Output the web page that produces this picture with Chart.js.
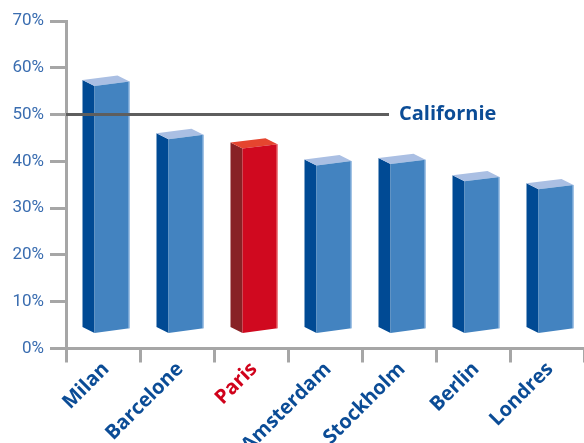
<!DOCTYPE html>
<html>
<head>
<meta charset="utf-8">
<script src="https://cdn.jsdelivr.net/npm/chart.js@4/dist/chart.umd.min.js"></script>
<style>
  html, body { margin: 0; padding: 0; background: #ffffff; }
  #wrap { width: 584px; height: 443px; }
</style>
</head>
<body>
<div id="wrap"><canvas id="c" width="584" height="443"></canvas></div>
<script>
// ---- data ----
const cities = ['Milan', 'Barcelone', 'Paris', 'Amsterdam', 'Stockholm', 'Berlin', 'Londres'];
const shares = [56.6, 45.2, 43.2, 39.6, 39.9, 36.2, 34.5];
const highlightCity = 'Paris';
const referenceLabel = 'Californie';
const referenceValue = 50;
const yTicks = [0, 10, 20, 30, 40, 50, 60, 70];

// ---- style ----
const BLUE = { front: '#4383c0', side: '#004a94', top: '#aabfe3', edge: '#a8c6ea' };
const RED  = { front: '#d0091f', side: '#882225', top: '#e5452f', edge: '#f08a8a' };
const GREY = '#a6a6a6';
const LABEL_BLUE = '#0b4c96';
const TICK_BLUE = '#3a6db0';
const LABEL_RED = '#d0021b';

const bar3d = {
  id: 'bar3d',
  afterDatasetsDraw(chart) {
    const ctx = chart.ctx;
    const meta = chart.getDatasetMeta(0);
    const poly = (pts, fill) => {
      ctx.beginPath();
      ctx.moveTo(pts[0][0], pts[0][1]);
      for (let k = 1; k < pts.length; k++) ctx.lineTo(pts[k][0], pts[k][1]);
      ctx.closePath();
      ctx.fillStyle = fill;
      ctx.fill();
    };
    ctx.save();
    meta.data.forEach((el, i) => {
      const col = cities[i] === highlightCity ? RED : BLUE;
      const cx = el.x, yt = el.y, yb = el.base;
      const fl = cx - 8.5, fr = cx + 26.5, depthX = 12, depthY = 6, sl = fl - depthX;
      const ftl = yt + 2.2, ftr = yt - 2.2, fbl = yb + 2.4, fbr = yb - 2.4;
      poly([[sl, ftl - depthY], [fl, ftl], [fl, fbl], [sl, fbl - depthY]], col.side);
      poly([[sl, ftl - depthY], [fl, ftl], [fr, ftr], [fr - depthX, ftr - depthY]], col.top);
      poly([[fl, ftl], [fr, ftr], [fr, fbr], [fl, fbl]], col.front);
      ctx.strokeStyle = col.edge;
      ctx.lineWidth = 1;
      ctx.beginPath();
      ctx.moveTo(fr - 0.5, ftr);
      ctx.lineTo(fr - 0.5, fbr);
      ctx.stroke();
    });
    ctx.restore();
  },
  afterDraw(chart) {
    const ctx = chart.ctx;
    const y = chart.scales.y.getPixelForValue(referenceValue);
    const xs = chart.scales.x;
    const labelX = xs.getPixelForValue(4);
    ctx.save();
    ctx.strokeStyle = '#5e5e5e';
    ctx.lineWidth = 3;
    ctx.beginPath();
    ctx.moveTo(chart.chartArea.left, y);
    ctx.lineTo(labelX - 10, y);
    ctx.stroke();
    ctx.fillStyle = LABEL_BLUE;
    ctx.font = 'bold 20px "Open Sans"';
    ctx.textAlign = 'left';
    ctx.textBaseline = 'middle';
    ctx.fillText(referenceLabel, labelX, y);
    ctx.restore();
  }
};

new Chart(document.getElementById('c'), {
  type: 'bar',
  data: {
    labels: cities,
    datasets: [{
      data: shares,
      base: 3.8,
      backgroundColor: 'rgba(0,0,0,0)',
      borderWidth: 0
    }]
  },
  options: {
    responsive: false,
    animation: false,
    events: [],
    layout: { padding: { top: 21, right: 0, left: 0, bottom: 0 } },
    plugins: { legend: { display: false }, tooltip: { enabled: false } },
    scales: {
      x: {
        offset: true,
        afterFit: (s) => { s.height = 94.5; },
        grid: {
          offset: true,
          drawOnChartArea: false,
          drawTicks: true,
          tickLength: 14,
          color: GREY,
          lineWidth: 3
        },
        border: { display: true, color: GREY, width: 3 },
        ticks: {
          minRotation: 45,
          maxRotation: 45,
          autoSkip: false,
          padding: -5,
          labelOffset: 3,
          font: { family: '"Open Sans"', weight: 'bold', size: 20 },
          color: (c) => cities[c.index] === highlightCity ? LABEL_RED : LABEL_BLUE
        }
      },
      y: {
        min: yTicks[0],
        max: yTicks[yTicks.length - 1],
        afterFit: (s) => { s.width = 66; },
        afterBuildTicks: (s) => { s.ticks = yTicks.map(v => ({ value: v })); },
        grid: {
          drawOnChartArea: false,
          drawTicks: true,
          tickLength: 16,
          color: GREY,
          lineWidth: 3
        },
        border: { display: true, color: GREY, width: 3 },
        ticks: {
          padding: 6,
          color: TICK_BLUE,
          font: { family: 'Roboto', size: 17 },
          callback: (v) => v + '%'
        }
      }
    }
  },
  plugins: [bar3d]
});
</script>
</body>
</html>
